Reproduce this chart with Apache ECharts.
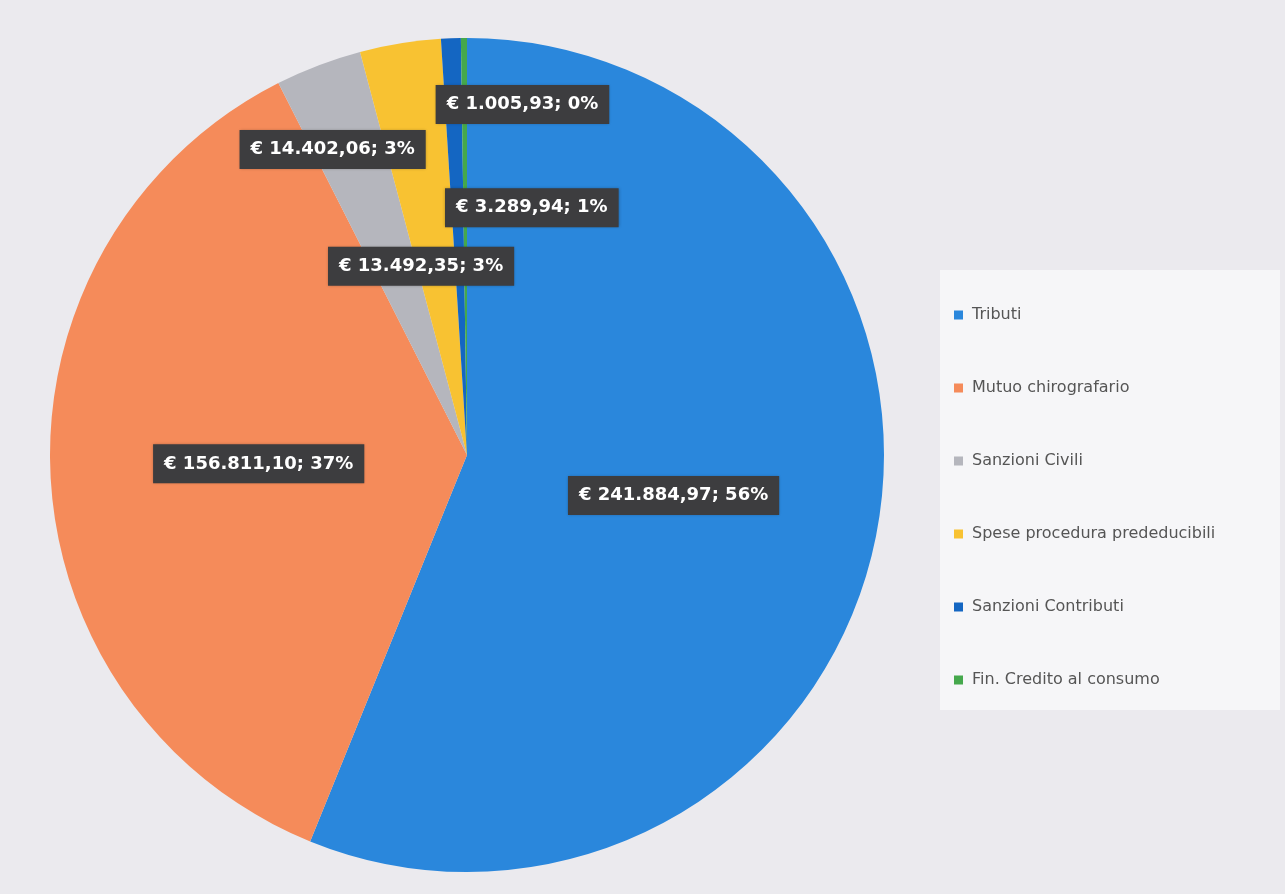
<!DOCTYPE html>
<html><head><meta charset="utf-8">
<script src="https://cdn.jsdelivr.net/npm/echarts@6/dist/echarts.min.js"></script>
<style>html,body{margin:0;padding:0;background:#ebeaee}#c{width:1285px;height:894px}</style>
</head><body><div id="c"></div>
<script>
const categories = ['Tributi','Mutuo chirografario','Sanzioni Civili','Spese procedura prededucibili','Sanzioni Contributi','Fin. Credito al consumo'];
const values = [241884.97, 156811.10, 14402.06, 13492.35, 3289.94, 1005.93];
const percentLabels = [56, 37, 3, 3, 1, 0];
const colors = ['#2a87dc','#f58b5a','#b5b6bd','#f8c232','#1466c2','#45a84c'];
// label nudges (px) from the default inside position
const labelShift = [[-1,0],[3,0],[-59,-108],[-12,20],[73,-36],[57,-139]];

function fmtEuro(v){
  const parts = v.toFixed(2).split('.');
  const intp = parts[0].replace(/\B(?=(\d{3})+(?!\d))/g,'.');
  return '€ ' + intp + ',' + parts[1];
}

const chart = echarts.init(document.getElementById('c'));
chart.setOption({
  backgroundColor: '#ebeaee',
  color: colors,
  graphic: [{
    type:'rect', left: 940, top: 270, shape:{width:340,height:440},
    style:{fill:'#f6f6f8'}, z:-1
  }],
  legend: {
    orient: 'vertical', left: 949, top: 302,
    itemWidth: 9, itemHeight: 9, itemGap: 57,
    icon: 'rect',
    textStyle: {fontFamily: 'DejaVu Sans', fontSize: 16, color: '#555', padding: [0,0,0,4]},
    data: categories
  },
  series: [{
    type: 'pie',
    center: [467, 455],
    radius: 417,
    startAngle: 90,
    clockwise: true,
    avoidLabelOverlap: false,
    itemStyle: {borderWidth: 0},
    label: {
      position: 'inside',
      formatter: p => fmtEuro(values[p.dataIndex]) + '; ' + percentLabels[p.dataIndex] + '%',
      color: '#fff',
      fontFamily: 'DejaVu Sans',
      fontWeight: 'bold',
      fontSize: 18,
      lineHeight: 20,
      backgroundColor: '#3d3d3f',
      padding: [10, 11, 9, 11],
      shadowColor: 'rgba(0,0,0,0.3)', shadowBlur: 3
    },
    labelLayout: p => ({dx: labelShift[p.dataIndex][0], dy: labelShift[p.dataIndex][1]}),
    emphasis: {disabled: true},
    data: categories.map((c,i)=>({name:c, value: values[i]}))
  }]
});
</script></body></html>
